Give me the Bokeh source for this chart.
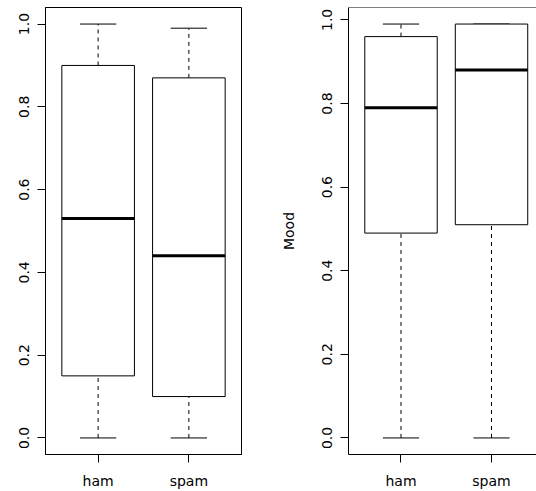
from bokeh.plotting import figure
from bokeh.models import Range1d, FixedTicker, Span
from bokeh.layouts import row
from bokeh.embed import file_html
from bokeh.resources import INLINE

# ---- data ----
categories = ["ham", "spam"]
cat_pos = [1, 2]

left_min = [0.0, 0.0]
left_q1 = [0.15, 0.10]
left_med = [0.53, 0.44]
left_q3 = [0.90, 0.87]
left_max = [1.0, 0.99]

right_min = [0.0, 0.0]
right_q1 = [0.49, 0.51]
right_med = [0.79, 0.88]
right_q3 = [0.96, 0.99]
right_max = [0.99, 0.99]

y_ticks = [0.0, 0.2, 0.4, 0.6, 0.8, 1.0]
y_tick_labels = ["0.0", "0.2", "0.4", "0.6", "0.8", "1.0"]

FONT = "DejaVu Sans"
FS = "14px"
BOX_W = 0.8
CAP_W = 0.4


def make_panel(width, border_left, border_right, yr, xr, mn, q1, med, q3, mx,
               ylabel=None, outline=True):
    p = figure(width=width, height=491, output_backend="svg", toolbar_location=None,
               x_range=xr, y_range=yr,
               min_border_left=border_left, min_border_right=border_right,
               min_border_top=7, min_border_bottom=36)
    p.grid.visible = False
    p.background_fill_color = "white"
    p.border_fill_color = "white"
    if outline:
        p.outline_line_color = "black"
        p.outline_line_width = 1
    else:
        p.outline_line_color = None
        p.add_layout(Span(location=yr.end, dimension="width",
                          line_color="black", line_width=1))

    xs = cat_pos
    # whiskers
    p.segment(x0=xs, y0=q3, x1=xs, y1=mx, line_color="black", line_width=1,
              line_dash="4 4")
    p.segment(x0=xs, y0=mn, x1=xs, y1=q1, line_color="black", line_width=1,
              line_dash="4 4")
    # caps
    p.segment(x0=[x - CAP_W / 2 for x in xs], y0=mx, x1=[x + CAP_W / 2 for x in xs],
              y1=mx, line_color="black", line_width=1)
    p.segment(x0=[x - CAP_W / 2 for x in xs], y0=mn, x1=[x + CAP_W / 2 for x in xs],
              y1=mn, line_color="black", line_width=1)
    # boxes
    p.quad(left=[x - BOX_W / 2 for x in xs], right=[x + BOX_W / 2 for x in xs],
           bottom=q1, top=q3, fill_color="white", line_color="black", line_width=1)
    # medians
    p.segment(x0=[x - BOX_W / 2 for x in xs], y0=med, x1=[x + BOX_W / 2 for x in xs],
              y1=med, line_color="black", line_width=3)

    # y axis
    ya = p.yaxis[0]
    ya.ticker = FixedTicker(ticks=y_ticks)
    ya.major_label_overrides = {t: l for t, l in zip(y_ticks, y_tick_labels)}
    ya.major_label_orientation = "vertical"
    ya.major_tick_out = 8
    ya.major_tick_in = 0
    ya.minor_tick_out = 0
    ya.minor_tick_in = 0
    ya.major_label_standoff = 8
    ya.major_label_text_font = FONT
    ya.major_label_text_font_size = FS
    ya.major_label_text_color = "black"
    ya.axis_line_color = "black"
    ya.major_tick_line_color = "black"
    if ylabel:
        ya.axis_label = ylabel
        ya.axis_label_text_font = FONT
        ya.axis_label_text_font_size = FS
        ya.axis_label_text_font_style = "normal"
        ya.axis_label_text_color = "black"
        ya.axis_label_standoff = 23

    # x axis
    xa = p.xaxis[0]
    xa.ticker = FixedTicker(ticks=cat_pos)
    xa.major_label_overrides = {c: n for c, n in zip(cat_pos, categories)}
    xa.major_tick_out = 8
    xa.major_tick_in = 0
    xa.minor_tick_out = 0
    xa.minor_tick_in = 0
    xa.major_label_standoff = 10
    xa.major_label_text_font = FONT
    xa.major_label_text_font_size = FS
    xa.major_label_text_color = "black"
    xa.axis_line_color = "black"
    xa.major_tick_line_color = "black"
    return p


p1 = make_panel(268, 45, 27, Range1d(-0.04, 1.04), Range1d(0.42, 2.58),
                left_min, left_q1, left_med, left_q3, left_max)
p2 = make_panel(268, 80, 0, Range1d(-0.0396, 1.0296), Range1d(0.42, 2.497),
                right_min, right_q1, right_med, right_q3, right_max,
                ylabel="Mood", outline=False)

layout = row(p1, p2)
open("out.html", "w").write(file_html(layout, INLINE))
